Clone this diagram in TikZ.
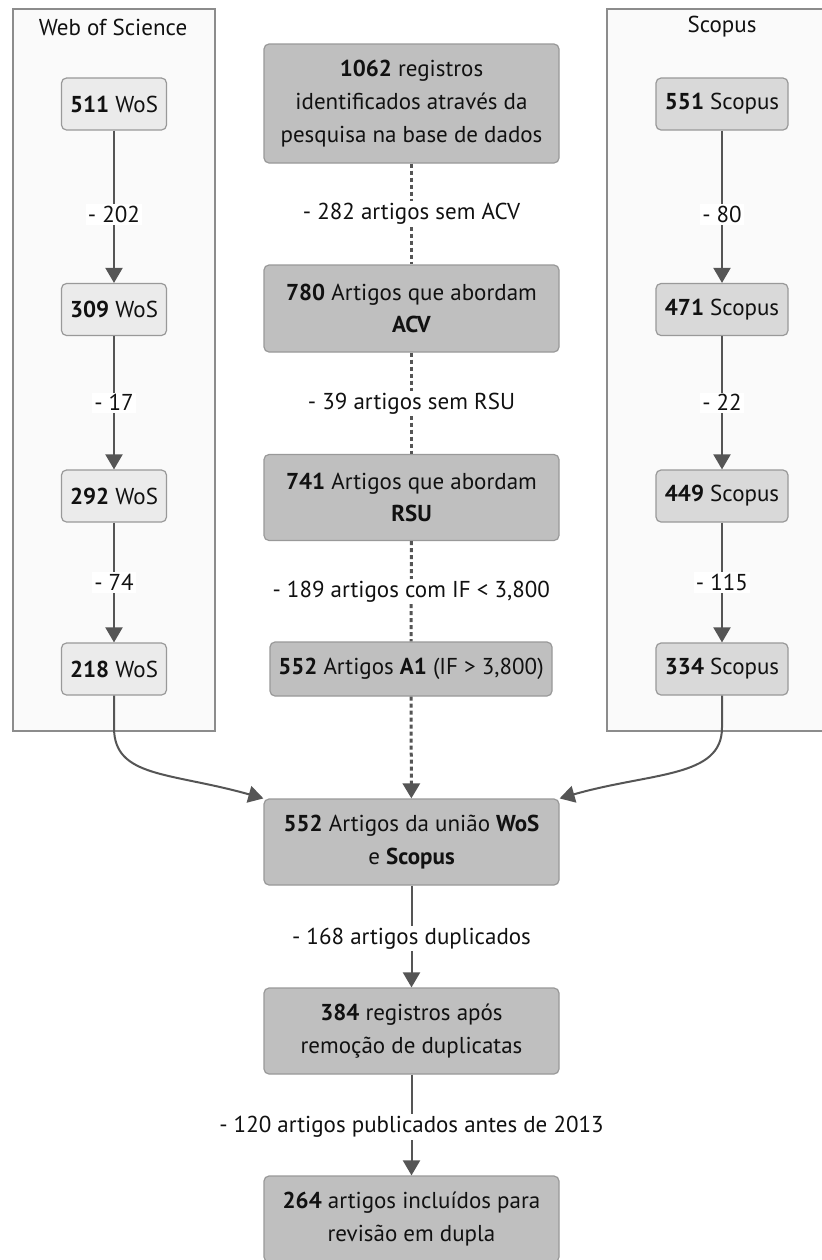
\documentclass[tikz,border=0pt]{standalone}
\usepackage{fontspec}
\setmainfont{PT Sans}
\usetikzlibrary{arrows.meta}
\definecolor{clusterfill}{HTML}{FAFAFA}
\definecolor{clusterline}{HTML}{8C8C8C}
\definecolor{wosfill}{HTML}{EBEBEB}
\definecolor{scofill}{HTML}{D9D9D9}
\definecolor{midfill}{HTML}{BFBFBF}
\definecolor{boxline}{HTML}{999999}
\definecolor{edgecol}{HTML}{555555}
\definecolor{txt}{HTML}{111111}
\begin{document}
\begin{tikzpicture}[x=0.5pt,y=-0.5pt,
  every node/.style={text=txt, font=\fontsize{11.5}{16.3}\selectfont},
  basebox/.style={draw=boxline, line width=0.6pt, rounded corners=2.5pt, align=center, inner sep=0pt},
  wosbox/.style={basebox, fill=wosfill, minimum width=52.5pt, minimum height=26pt},
  scobox/.style={basebox, fill=scofill, minimum width=66pt, minimum height=26pt},
  midbox/.style={basebox, fill=midfill, minimum width=147.5pt},
  cluster/.style={draw=clusterline, fill=clusterfill, line width=0.7pt},
  solidarrow/.style={draw=edgecol, line width=1pt, -{Triangle[length=7.5pt,width=8.5pt]}},
  dottedline/.style={draw=edgecol, line width=1.5pt, dash pattern=on 2pt off 1.5pt},
  dottedarrow/.style={dottedline, -{Triangle[length=7.5pt,width=8.5pt]}},
  elabel/.style={fill=white, inner sep=1pt}
]
\useasboundingbox (0,0) rectangle (822,1260);
\clip (0,0) rectangle (822,1260);
\fill[white] (0,0) rectangle (822,1260);

% clusters
\draw[cluster] (13,9) rectangle (215,731);
\node (wostitle) at (113,27) {Web of Science};
\draw[cluster] (607,9) rectangle (840,731);
\node (scotitle) at (722,27) {Scopus};

% WoS column
\node[wosbox] (w1) at (114,104) {\textbf{511} WoS};
\node[wosbox] (w2) at (114,309.5) {\textbf{309} WoS};
\node[wosbox] (w3) at (114,496) {\textbf{292} WoS};
\node[wosbox] (w4) at (114,669) {\textbf{218} WoS};

% Scopus column
\node[scobox] (s1) at (722,104) {\textbf{551} Scopus};
\node[scobox] (s2) at (722,309.5) {\textbf{471} Scopus};
\node[scobox] (s3) at (722,496) {\textbf{449} Scopus};
\node[scobox] (s4) at (722,669) {\textbf{334} Scopus};

% centre column
\node[midbox, minimum height=59.5pt] (m1) at (411.5,103.5) {\textbf{1062} registros\\identificados através da\\pesquisa na base de dados};
\node[midbox, minimum height=43.5pt] (m2) at (411.5,308.5) {\textbf{780} Artigos que abordam\\\textbf{ACV}};
\node[midbox, minimum height=43pt] (m3) at (411.5,497.5) {\textbf{741} Artigos que abordam\\\textbf{RSU}};
\node[basebox, fill=midfill, minimum width=141pt, minimum height=27pt] (m4) at (411,669) {\textbf{552} Artigos \textbf{A1} (IF > 3,800)};
\node[midbox, minimum height=43pt] (u) at (411.5,842) {\textbf{552} Artigos da união \textbf{WoS}\\e \textbf{Scopus}};
\node[midbox, minimum height=43pt] (d) at (411.5,1031) {\textbf{384} registros após\\remoção de duplicatas};
\node[midbox, minimum height=43pt] (f) at (411.5,1219) {\textbf{264} artigos incluídos para\\revisão em dupla};

% WoS edges
\draw[solidarrow] (w1) -- node[elabel, pos=0.55] (lw1) {- 202} (w2);
\draw[solidarrow] (w2) -- node[elabel] (lw2) {- 17} (w3);
\draw[solidarrow] (w3) -- node[elabel] (lw3) {- 74} (w4);

% Scopus edges
\draw[solidarrow] (s1) -- node[elabel, pos=0.55] (ls1) {- 80} (s2);
\draw[solidarrow] (s2) -- node[elabel] (ls2) {- 22} (s3);
\draw[solidarrow] (s3) -- node[elabel] (ls3) {- 115} (s4);

% centre dotted edges
\draw[dottedline] (m1) -- node[elabel] (lm1) {- 282 artigos sem ACV} (m2);
\draw[dottedline] (m2) -- node[elabel] (lm2) {- 39 artigos sem RSU} (m3);
\draw[dottedline] (m3) -- node[elabel] (lm3) {- 189 artigos com IF < 3,800} (m4);
\draw[dottedarrow] (m4) -- (u);

% merging curves
\draw[solidarrow] (w4.south) -- ++(0,32) .. controls (114,778) and (170,772) .. (u.north west);
\draw[solidarrow] (s4.south) -- ++(0,32) .. controls (722,778) and (652,772) .. (u.north east);

% bottom chain
\draw[solidarrow] (u) -- node[elabel, pos=0.52] (lu) {- 168 artigos duplicados} (d);
\draw[solidarrow] (d) -- node[elabel, pos=0.52] (ld) {- 120 artigos publicados antes de 2013} (f);
\end{tikzpicture}
\end{document}
